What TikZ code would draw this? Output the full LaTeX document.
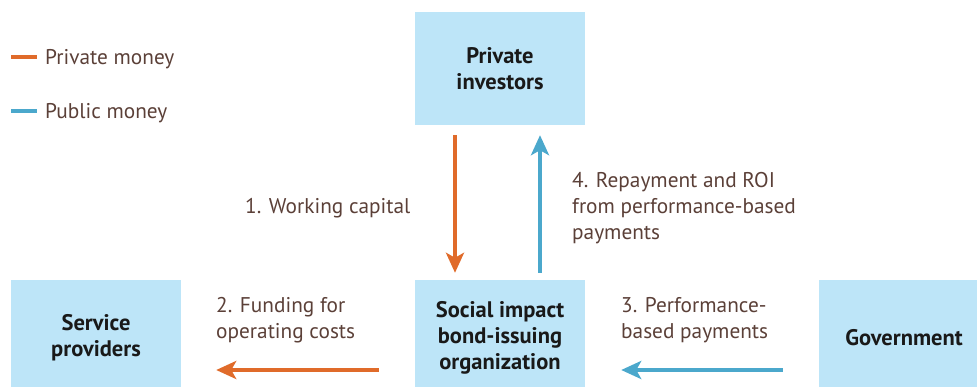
\documentclass[tikz,border=0pt]{standalone}
\usepackage{fontspec}
\setmainfont{PT Sans}
\usetikzlibrary{arrows.meta}
\definecolor{boxfill}{HTML}{BDE5F8}
\definecolor{orng}{HTML}{E06B2A}
\definecolor{blu}{HTML}{4BA8CC}
\definecolor{txt}{HTML}{5B4038}
\begin{document}
\begin{tikzpicture}[x=1pt,y=-1pt,
 box/.style={fill=boxfill, font=\fontsize{22.5}{26}\selectfont\bfseries, text=black!90, align=center, inner sep=0, minimum width=170pt},
 lbl/.style={font=\fontsize{21.3}{26}\selectfont, text=txt, align=left, inner sep=0, anchor=west},
 arr/.style={line width=4pt, -{Stealth[length=20pt,width=18pt,inset=5pt]}},
 priv/.style={arr, draw=orng, fill=orng},
 pub/.style={arr, draw=blu, fill=blu},
 legline/.style={line width=4pt}]
\clip (0,0) rectangle (977,387);
\node[box, minimum height=113pt] (pi) at (500,68.5) {Private\\investors};
\node[box, minimum height=116pt] (soc) at (500,338) {Social impact\\bond-issuing\\organization};
\node[box, minimum height=116pt] (sp) at (96,338) {Service\\providers};
\node[box, minimum height=116pt] (gov) at (904,338) {Government};
\draw[priv] ([xshift=-45pt,yshift=-10pt]pi.south) -- ([xshift=-45pt,yshift=7pt]soc.north);
\draw[pub] ([xshift=40pt,yshift=7pt]soc.north) -- ([xshift=40pt,yshift=-10pt]pi.south);
\draw[priv] ([xshift=-36pt,yshift=-32pt]soc.west) -- ([xshift=35pt,yshift=-32pt]sp.east);
\draw[pub] ([xshift=-36pt,yshift=-32pt]gov.west) -- ([xshift=36pt,yshift=-32pt]soc.east);
\coordinate (l1a) at (11,57); \coordinate (l1b) at (37,57);
\coordinate (l2a) at (11,111); \coordinate (l2b) at (37,111);
\draw[legline, orng] (l1a) -- (l1b);
\draw[legline, blu] (l2a) -- (l2b);
\node[lbl] (lg1) at (45,59) {Private money};
\node[lbl] (lg2) at (45,113) {Public money};
\node[lbl] (w) at (245,208) {1. Working capital};
\node[lbl] (r) at (572,208) {4. Repayment and ROI\\from performance-based\\payments};
\node[lbl] (f) at (216,320) {2. Funding for\\operating costs};
\node[lbl] (p) at (621,320) {3. Performance-\\based payments};
\end{tikzpicture}
\end{document}
